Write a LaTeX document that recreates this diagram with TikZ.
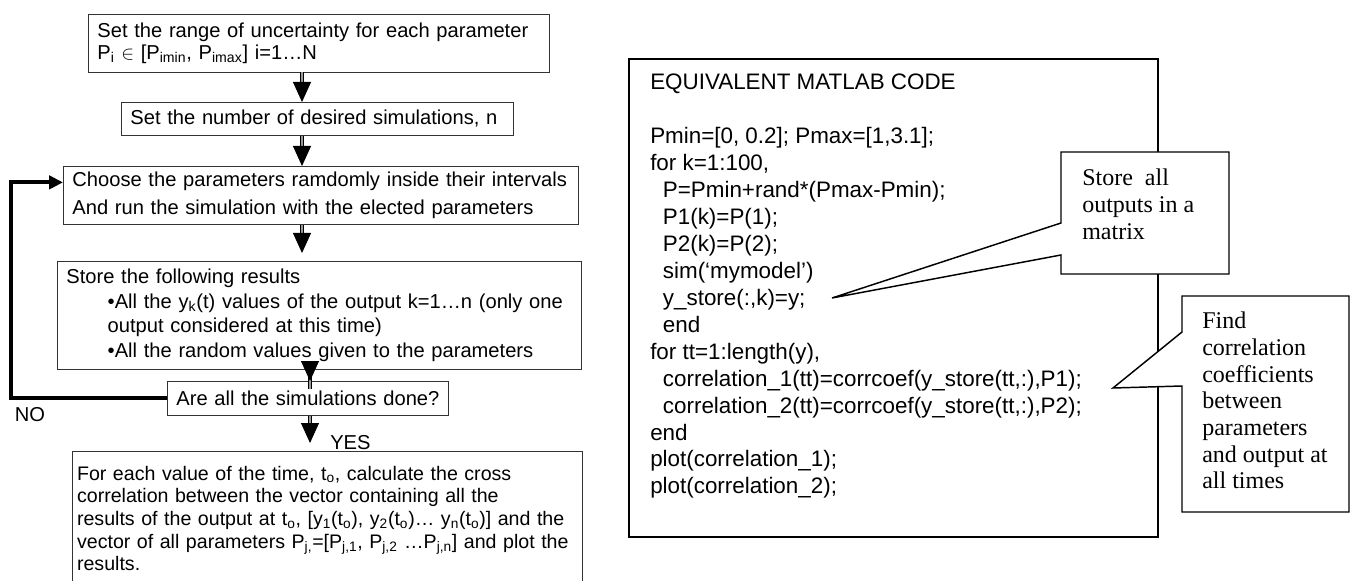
\documentclass[tikz,border=0pt]{standalone}
\usepackage{fontspec}
\setmainfont{Liberation Sans}
\newfontfamily\notefont{Liberation Serif}
\usetikzlibrary{arrows.meta}

\begin{document}
\begin{tikzpicture}[x=0.75pt,y=-0.75pt,font=\fontsize{15.1pt}{18pt}\selectfont]

	\def \axisA{302}
	\def \axisB{310}
	\tikzstyle{f-box}=[draw=black!80,line width=0.6pt,anchor=north west,inner xsep=6.75pt,inner ysep=0pt,align=left]
	\tikzstyle{flow}=[draw=black,double=black!40,double distance=1.1pt,line width=0.7pt,-{Triangle[width=13.5pt,length=15pt]}]
	\tikzstyle{back}=[draw=black,line width=3pt,-{Triangle[width=10pt,length=10.5pt]}]
	\tikzstyle{codebox}=[draw=black,line width=1.5pt,anchor=north west,inner sep=0pt]
	\tikzstyle{code}=[anchor=north west,inner sep=0pt,align=left,font=\fontsize{16.8pt}{20.2pt}\selectfont]
	\tikzstyle{note}=[draw=black,fill=white,line width=1.1pt,line join=miter]
	\tikzstyle{notetext}=[anchor=north west,inner sep=0pt,align=left,font=\notefont\fontsize{18pt}{20pt}\selectfont]

	\useasboundingbox (0,0) rectangle (1354,581);

	% arrow axes
	\coordinate (axisA) at (\axisA,0);
	\coordinate (axisB) at (\axisB,0);

	% flow chart
	\node[f-box,minimum width=345.75pt,minimum height=43.5pt,text width=332.25pt,
		font=\fontsize{15.1pt}{16.5pt}\selectfont,yshift=-2pt] (range) at (88,11)
		{Set the range of uncertainty for each parameter\\
		 P\textsubscript{i} $\in$ [P\textsubscript{imin}, P\textsubscript{imax}] i=1…N};
	\node[f-box,minimum width=294pt,minimum height=24.75pt,text width=280.5pt] (count) at (121,102)
		{Set the number of desired simulations, n};
	\node[f-box,minimum width=386.25pt,minimum height=43.5pt,text width=372.75pt,
		font=\fontsize{15.1pt}{21pt}\selectfont] (choose) at (63,166)
		{Choose the parameters ramdomly inside their intervals\\
		 And run the simulation with the elected parameters};
	\node[f-box,minimum width=393pt,minimum height=81pt,text width=379.5pt,
		font=\fontsize{15.1pt}{18.5pt}\selectfont] (store) at (57,261)
		{Store the following results\\
		 \hspace*{31pt}•All the y\textsubscript{k}(t) values of the output k=1…n (only one\\
		 \hspace*{31pt}output considered at this time)\\
		 \hspace*{31pt}•All the random values given to the parameters};
	\node[f-box,minimum width=210.75pt,minimum height=25.5pt,text width=197.25pt] (check) at (167,381)
		{Are all the simulations done?};
	\node[f-box,minimum width=381.75pt,minimum height=100.5pt,text width=375.75pt,inner xsep=3.5pt,
		font=\fontsize{14.7pt}{17pt}\selectfont] (final) at (72,451)
		{For each value of the time, t\textsubscript{o}, calculate the cross\\
		 correlation between the vector containing all the\\
		 \mbox{results of the output at t\textsubscript{o}, [y\textsubscript{1}(t\textsubscript{o}), y\textsubscript{2}(t\textsubscript{o})… y\textsubscript{n}(t\textsubscript{o})] and the}\\
		 \mbox{vector of all parameters P\textsubscript{j,}=[P\textsubscript{j,1}, P\textsubscript{j,2} …P\textsubscript{j,n}] and plot the}\\
		 results.};

	% labels
	\node (no) at (30,415) {NO};
	\node[anchor=west,inner sep=0pt] (yes) at (330,443) {YES};

	% arrows
	\draw[flow] (range.south -| axisA) -- (count.north -| axisA);
	\draw[flow] (count.south -| axisA) -- (choose.north -| axisA);
	\draw[flow,shorten >=6pt] (choose.south -| axisA) -- (store.north -| axisA);
	\draw[flow,shorten <=-14.25pt] (store.south -| axisB) -- (check.north -| axisB);
	\draw[flow,shorten >=6pt] (check.south -| axisB) -- (final.north -| axisB);
	\draw[back] (check.west) -- ++(-156,0) |- ([yshift=9.75pt]choose.west);

	% matlab code
	\node[codebox,minimum width=396.75pt,minimum height=358.5pt] (matlab) at (628,58) {};
	\node[code] (listing) at (650,74)
		{EQUIVALENT MATLAB CODE\\[20.2pt]
		 Pmin=[0, 0.2]; Pmax=[1,3.1];\\
		 for k=1:100,\\
		 \hspace*{9.5pt}P=Pmin+rand*(Pmax-Pmin);\\
		 \hspace*{9.5pt}P1(k)=P(1);\\
		 \hspace*{9.5pt}P2(k)=P(2);\\
		 \hspace*{9.5pt}sim(‘mymodel’)\\
		 \hspace*{9.5pt}y\_store(:,k)=y;\\
		 \hspace*{9.5pt}end\\
		 for tt=1:length(y),\\
		 \hspace*{9.5pt}correlation\_1(tt)=corrcoef(y\_store(tt,:),P1);\\
		 \hspace*{9.5pt}correlation\_2(tt)=corrcoef(y\_store(tt,:),P2);\\
		 end\\
		 plot(correlation\_1);\\
		 plot(correlation\_2);};

	% callouts
	\draw[note] (1061,152) -- (1229,152) -- (1229,274) -- (1061,274) -- (1061,255) -- (832,298) -- (1061,223) -- cycle;
	\node[notetext] (storenote) at (1082,169) {Store~ all\\ outputs in a\\ matrix};
	\draw[note] (1182,296) -- (1349,296) -- (1349,512) -- (1182,512) -- (1182,386) -- (1113,388) -- (1182,332) -- cycle;
	\node[notetext] (findnote) at (1202,312) {Find\\ correlation\\ coefficients\\ between\\ parameters\\ and output at\\ all times};
\end{tikzpicture}
\end{document}
